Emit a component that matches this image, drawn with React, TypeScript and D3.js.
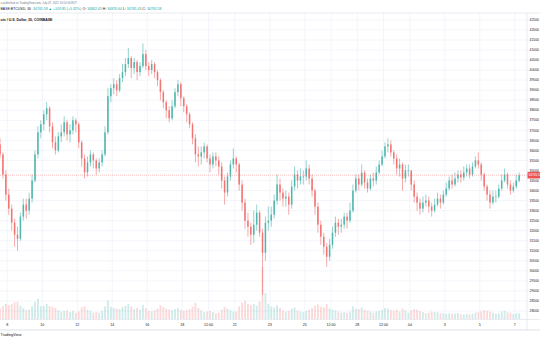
import React from "react";
import * as d3 from "d3";

// ---- data (4-hour aggregated candles) ----
const firstBarStart = Date.UTC(2021, 5, 7, 12); // Jun 7 12:00
const firstOpen = 36300;
const closes = [
  35800, 34800, 33800,
  33100, 32400, 31800, 31600, 32700, 33300,
  33000, 33600, 34500, 35800, 36900, 37300,
  37800, 38100, 37200, 36400, 36000, 36700,
  36900, 37400, 36800, 37000, 37500, 37300,
  36400, 35600, 34900, 35400, 35800, 35500,
  35100, 35400, 35800, 36900, 38700, 39100,
  39300, 39000, 39600, 39900, 40300, 40600,
  40100, 40400, 39900, 40200, 40800, 40200,
  40000, 40300, 39900, 39500, 38900, 38400,
  38000, 37600, 38200, 38900, 39300, 38600,
  38200, 37800, 37300, 36600, 35800, 35700,
  35900, 36200, 35600, 35300, 35700, 35500,
  35200, 34500, 33900, 34700, 35300, 35600,
  35300, 34300, 33400, 32500, 32200, 31800,
  32300, 32900, 31900, 30900, 32400, 32500,
  32800, 33500, 34300, 33900, 33600, 33700,
  33300, 34200, 34800, 34500, 34700, 34700,
  35100, 34600, 34000, 33200, 32300, 31700,
  31200, 30700, 31300, 31900, 32400, 32200,
  32300, 32700, 32500, 33000, 34000, 34600,
  34300, 34900, 34400, 34100, 34600, 34500,
  34900, 35300, 35700, 36200, 36300, 35900,
  35600, 35100, 35300, 34600, 35000, 35000,
  34300, 33700, 33400, 33100, 33400, 33500,
  33200, 33000, 33300, 33600, 33400, 33800,
  34100, 34500, 34300, 34600, 34800, 34650,
  34900, 35100, 34800, 35200, 35500, 35300,
  34800, 34200, 33800, 33400, 33700, 33700,
  34100, 34500, 34800, 34300, 34000, 34200,
  34500, 34766,
];
const highs = [
  36600, 35900, 35000,
  34100, 33300, 32600, 32200, 32900, 33600,
  33600, 33900, 34800, 36000, 37200, 37500,
  38000, 38400, 38200, 37400, 36700, 36900,
  37300, 37700, 37500, 37300, 37700, 37600,
  37400, 36500, 35800, 35700, 36000, 35900,
  35600, 35600, 36000, 37200, 39100, 39300,
  39600, 39500, 39800, 40300, 40600, 41100,
  40700, 40600, 40500, 40400, 41330, 41000,
  40400, 40500, 40400, 40000, 39600, 39000,
  38500, 38200, 38500, 39100, 39500, 39400,
  38700, 38300, 37900, 37400, 36800, 36200,
  36200, 36400, 36300, 35800, 35900, 35900,
  35700, 35400, 34700, 34900, 35500, 36100,
  35700, 35400, 34500, 33600, 32900, 32400,
  33000, 33300, 33000, 32100, 32700, 33200,
  33200, 33800, 34800, 34600, 34100, 34000,
  33900, 34500, 35200, 35000, 35100, 35000,
  35500, 35300, 34800, 34100, 33400, 32500,
  31900, 31400, 31600, 32200, 32700, 32600,
  32600, 32900, 32900, 33400, 34300, 34800,
  34800, 35300, 35000, 34600, 34800, 34900,
  35200, 35500, 36000, 36400, 36600, 36500,
  36000, 35800, 35600, 35400, 35300, 35300,
  35000, 34500, 33900, 33600, 33700, 33800,
  33700, 33400, 33600, 33900, 33800, 34000,
  34400, 34700, 34800, 34900, 35000, 35000,
  35200, 35300, 35300, 35400, 35700, 35900,
  35400, 34900, 34300, 34000, 34000, 34000,
  34300, 34800, 35100, 34900, 34500, 34400,
  34800, 34900,
];
const lows = [
  35600, 34600, 33500,
  32800, 32000, 31200, 31000, 31500, 32500,
  32600, 32800, 33400, 34400, 35600, 36600,
  37000, 37500, 36900, 36100, 35800, 35900,
  36400, 36700, 36500, 36400, 36800, 36900,
  36100, 35200, 34600, 34700, 35200, 35100,
  34800, 34900, 35200, 35700, 36800, 38400,
  38800, 38700, 38900, 39400, 39700, 40100,
  39600, 39800, 39500, 39700, 40100, 40000,
  39700, 39800, 39600, 39200, 38500, 38100,
  37600, 37400, 37500, 38100, 38700, 38200,
  37900, 37400, 37100, 36300, 35400, 35200,
  35300, 35600, 35400, 34900, 35100, 35200,
  34800, 34100, 33300, 33700, 34500, 35100,
  34900, 34000, 33000, 32100, 31700, 31300,
  31400, 32000, 31700, 28805, 30500, 32000,
  32200, 32600, 33300, 33500, 33200, 33200,
  32800, 33100, 34000, 34100, 34300, 34300,
  34500, 34300, 33700, 32800, 31900, 31300,
  30800, 30200, 30500, 31100, 31700, 31800,
  31900, 32100, 32100, 32400, 32900, 33900,
  34000, 34200, 34100, 33900, 34000, 34200,
  34300, 34800, 35200, 35600, 35900, 35700,
  35300, 34800, 34700, 34000, 34400, 34700,
  34000, 33400, 33000, 32800, 32900, 33200,
  32900, 32700, 32900, 33200, 33100, 33300,
  33700, 34000, 34100, 34200, 34400, 34400,
  34500, 34700, 34600, 34700, 35100, 35100,
  34500, 34000, 33500, 33100, 33300, 33400,
  33600, 34000, 34400, 34100, 33800, 33900,
  34100, 34400,
];
const volumes = [
  1800, 2200, 2600,
  2400, 2600, 2900, 3000, 2300, 1900,
  1500, 1600, 2200, 3000, 3500, 2200,
  2300, 2600, 2200, 2100, 1900, 1500,
  1300, 1400, 1500, 1200, 1400, 1100,
  1300, 2000, 2200, 1600, 1400, 1100,
  1200, 1100, 1400, 2200, 3200, 2100,
  1900, 1800, 1700, 2100, 2300, 2600,
  2200, 1700, 1900, 1600, 2400, 1900,
  1400, 1300, 1500, 1800, 2400, 2100,
  1800, 1600, 1500, 1700, 1900, 1600,
  1400, 1500, 1700, 2100, 2800, 1900,
  1500, 1200, 1300, 1400, 1200, 1000,
  1100, 1600, 2100, 1800, 1500, 1300,
  1300, 2200, 2800, 3200, 2600, 2400,
  2600, 2300, 3000, 9000, 4500, 2600,
  2200, 2000, 2400, 1900, 1500, 1300,
  1400, 1800, 2000, 1500, 1300, 1200,
  1400, 1600, 1900, 2300, 2500, 2100,
  2000, 2600, 1800, 1600, 1500, 1300,
  1100, 1200, 1100, 1300, 2200, 1800,
  1700, 2000, 1600, 1400, 1300, 1100,
  1300, 1400, 1600, 1900, 1800, 1500,
  1400, 1600, 1300, 1800, 1500, 1100,
  1500, 1700, 1600, 1400, 1200, 1000,
  1100, 1300, 1200, 1200, 1000, 1000,
  900, 1000, 900, 900, 1000, 800,
  800, 900, 800, 900, 1100, 1200,
  1300, 1500, 1400, 1300, 1100, 900,
  1000, 1300, 1400, 1200, 1100, 900,
  1000, 1000,
];

const priceTicks = d3.range(28000, 42501, 500);
const timeTicks: [string, number][] = [
  ["8", Date.UTC(2021, 5, 8)],
  ["10", Date.UTC(2021, 5, 10)],
  ["12", Date.UTC(2021, 5, 12)],
  ["14", Date.UTC(2021, 5, 14)],
  ["16", Date.UTC(2021, 5, 16)],
  ["18", Date.UTC(2021, 5, 18)],
  ["12:00", Date.UTC(2021, 5, 19, 12)],
  ["21", Date.UTC(2021, 5, 21)],
  ["23", Date.UTC(2021, 5, 23)],
  ["25", Date.UTC(2021, 5, 25)],
  ["12:00", Date.UTC(2021, 5, 26, 12)],
  ["28", Date.UTC(2021, 5, 28)],
  ["12:00", Date.UTC(2021, 5, 29, 12)],
  ["Jul", Date.UTC(2021, 6, 1)],
  ["3", Date.UTC(2021, 6, 3)],
  ["5", Date.UTC(2021, 6, 5)],
  ["7", Date.UTC(2021, 6, 7)],
];
const lastPrice = 34765.58;

const UP = "#26a69a";
const DOWN = "#ef5350";
const GRID = "#f0f3fa";
const FONT = "'Liberation Sans', Arial, sans-serif";

export default function App() {
  const W = 540, H = 340;
  const plotRight = 527;
  const x = d3.scaleUtc()
    .domain([new Date(Date.UTC(2021, 5, 8)), new Date(Date.UTC(2021, 6, 7))])
    .range([7.3, 514.8]);
  const y = d3.scaleLinear().domain([41500, 28000]).range([40, 311]);
  const volBase = 319;
  const vh = d3.scaleLinear().domain([0, 9000]).range([0, 52]);

  const bars = closes.map((c, i) => {
    const o = i === 0 ? firstOpen : closes[i - 1];
    const t = new Date(firstBarStart + i * 4 * 3600e3 + 2 * 3600e3);
    return {
      x: x(t),
      o, c,
      h: Math.max(highs[i], o, c),
      l: Math.min(lows[i], o, c),
      v: volumes[i],
      up: c >= o,
    };
  });

  const bodyW = 1.5;

  return (
    <svg width={W} height={H} style={{ position: "absolute", left: 0, top: 0, background: "#fff" }}
      fontFamily={FONT}>
      <rect x={0} y={0} width={W} height={H} fill="#fff" />
      {/* grid */}
      {priceTicks.map((p) => (
        <line key={"g" + p} x1={0} x2={plotRight} y1={y(p)} y2={y(p)} stroke={GRID} strokeWidth={0.8} />
      ))}
      {timeTicks.map(([lab, t], i) => (
        <line key={"v" + i} x1={x(new Date(t))} x2={x(new Date(t))} y1={13} y2={319} stroke={GRID} strokeWidth={0.8} />
      ))}
      {/* volume */}
      {bars.map((b, i) => (
        <rect key={"vol" + i} x={b.x - 0.9} width={1.8} y={volBase - vh(b.v)} height={vh(b.v)}
          fill={b.up ? UP : DOWN} opacity={0.22} />
      ))}
      {/* candles */}
      {bars.map((b, i) => {
        const col = b.up ? UP : DOWN;
        const top = y(Math.max(b.o, b.c));
        const bot = y(Math.min(b.o, b.c));
        return (
          <g key={"c" + i} opacity={0.8}>
            <line x1={b.x} x2={b.x} y1={y(b.h)} y2={y(b.l)} stroke={col} strokeWidth={0.6} />
            <rect x={b.x - bodyW / 2} width={bodyW} y={top} height={Math.max(0.6, bot - top)} fill={col} />
          </g>
        );
      })}
      {/* last price line */}
      <line x1={0} x2={plotRight} y1={y(lastPrice)} y2={y(lastPrice)} stroke={DOWN} strokeWidth={0.5}
        strokeDasharray="1,1" opacity={0.7} />
      {/* frames */}
      <line x1={0} x2={W} y1={13} y2={13} stroke="#e0e3eb" strokeWidth={0.7} />
      <line x1={plotRight} x2={plotRight} y1={13} y2={330} stroke="#e0e3eb" strokeWidth={0.7} />
      <line x1={0} x2={W} y1={319.5} y2={319.5} stroke="#e0e3eb" strokeWidth={0.7} />
      <line x1={0} x2={W} y1={330} y2={330} stroke="#d1d4dc" strokeWidth={0.7} />
      {/* price axis */}
      {priceTicks.map((p) => (
        <text key={"pl" + p} x={529.5} y={y(p) + 1.2} fontSize={3.4} fill="#131722">{p}</text>
      ))}
      <rect x={527.5} y={y(lastPrice) - 3.3} width={13} height={6.6} fill={DOWN} />
      <text x={528.5} y={y(lastPrice) + 1.2} fontSize={3.1} fill="#fff">{lastPrice.toFixed(2)}</text>
      {/* time axis */}
      {timeTicks.map(([lab, t], i) => (
        <text key={"tl" + i} x={x(new Date(t))} y={326.3} fontSize={3.6} fill="#131722" textAnchor="middle">{lab}</text>
      ))}
      {/* header */}
      <text x={0.5} y={4} fontSize={2.8} fill="#787b86">u published on TradingView.com, July 07, 2021 10:50:56 EDT</text>
      <text x={0.5} y={10.3} fontSize={3.5} fill="#131722">
        <tspan>BASE:BTCUSD, 30</tspan>
        <tspan dx={2} fill={UP}>34765.58 ▲ +109.85 (+0.32%)</tspan>
        <tspan dx={1.5}>O:</tspan><tspan fill={UP}> 34802.05</tspan>
        <tspan dx={1}>H:</tspan><tspan fill={UP}> 34870.64</tspan>
        <tspan dx={1}>L:</tspan><tspan fill={UP}> 34765.43</tspan>
        <tspan dx={1}>C:</tspan><tspan fill={UP}> 34765.58</tspan>
      </text>
      <text x={0.5} y={20.5} fontSize={3.5} fontWeight="bold" fill="#131722">oin / U.S. Dollar, 30, COINBASE</text>
      {/* footer */}
      <text x={0.5} y={335.5} fontSize={3.8} fill="#131722">TradingView</text>
    </svg>
  );
}
